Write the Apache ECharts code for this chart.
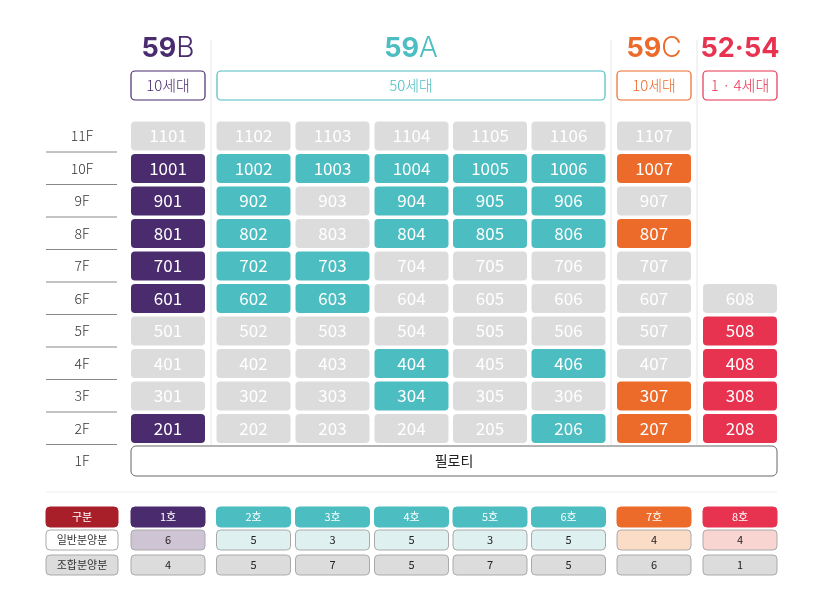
<!DOCTYPE html><html><head><meta charset="utf-8">
<script src="https://cdn.jsdelivr.net/npm/echarts@6/dist/echarts.min.js"></script>
<style>html,body{margin:0;padding:0;background:#fff}#c{width:823px;height:594px}</style></head><body><div id="c"></div>
<script>
const columns = ['1호','2호','3호','4호','5호','6호','7호','8호'];
const columnType = ['59B','59A','59A','59A','59A','59A','59C','5254'];
const floors = ['11F','10F','9F','8F','7F','6F','5F','4F','3F','2F','1F'];
const colored = {
 1:[10,9,8,7,6,2], 2:[10,9,8,7,6], 3:[10,7,6], 4:[10,9,8,4,3], 5:[10,9,8],
 6:[10,9,8,4,2], 7:[10,8,3,2], 8:[5,4,3,2]
};
const floorRange = {1:[2,11],2:[2,11],3:[2,11],4:[2,11],5:[2,11],6:[2,11],7:[2,11],8:[2,6]};
const generalSale = [6,5,3,5,3,5,4,4];
const unionSale = [4,5,7,5,7,5,6,1];
const typeNames = [['59','B'],['59','A'],['59','C'],['52·54','']];
const typeHouseholds = ['10세대','50세대','10세대','1 · 4세대'];

const colX = [168,253.5,332.5,411.5,490,568.5,654,740];
const CW = 74, CH = 29;
const floorY = f => 461 - (f-1)*32.5;
const typeColor = {'59B':'#4a2b6e','59A':'#4cbdc1','59C':'#ec6a2a','5254':'#e73350'};
const lightColor = {'59B':'#cfc4d4','59A':'#def0f0','59C':'#fbdcc6','5254':'#f9d5d2'};
const GREY = '#dcdcdc';
const F = '"Noto Sans CJK KR", "Noto Sans", sans-serif';
const FL = 'Inter, Lato, sans-serif';

const cellData = [];
for (let c=1;c<=8;c++){
  const [lo,hi]=floorRange[c];
  for(let f=lo;f<=hi;f++){
    cellData.push([colX[c-1], floorY(f), String(f*100+c), colored[c].includes(f)?typeColor[columnType[c-1]]:GREY]);
  }
}
const rowLabelData = floors.map((fl,i)=>[82, floorY(11-i), fl]);
const tableData = [];
tableData.push([82,517,'구분','#a81f2a','#fff',null]);
tableData.push([82,540,'일반분양분','#fff','#333','#aaa']);
tableData.push([82,565,'조합분양분',GREY,'#333','#aaa']);
columns.forEach((h,i)=>{
  const t=columnType[i];
  tableData.push([colX[i],517,h,typeColor[t],'#fff',null]);
  tableData.push([colX[i],540,String(generalSale[i]),lightColor[t],'#222','#aaa']);
  tableData.push([colX[i],565,String(unionSale[i]),GREY,'#222','#aaa']);
});
const headerGroups = [
 {x:168,x0:131,x1:205,c:'#4a2b6e'},
 {x:411,x0:217,x1:605,c:'#4cbdc1'},
 {x:654,x0:617,x1:691,c:'#ec6a2a'},
 {x:740,x0:703,x1:777,c:'#e73350'}
];
const headerData = headerGroups.map((g,i)=>[g.x,49,i]);

const chart = echarts.init(document.getElementById('c'));
chart.setOption({
  animation:false,
  grid:{left:0,right:0,top:0,bottom:0},
  xAxis:{type:'value',min:0,max:823,show:false},
  yAxis:{type:'value',min:0,max:594,inverse:true,show:false},
  series:[
   {type:'custom',data:headerData,renderItem:(p,api)=>{
      const i=api.value(2), g=headerGroups[i];
      const pt=api.coord([api.value(0),api.value(1)]);
      const b0=api.coord([g.x0,71]), b1=api.coord([g.x1,100]);
      const ch=[
       {type:'text',x:pt[0],y:pt[1],style:{text:'{b|'+typeNames[i][0]+'}'+(typeNames[i][1]?'{l|'+typeNames[i][1]+'}':''),
         align:'center',verticalAlign:'middle',rich:{b:{fontFamily:FL,fontWeight:'bold',fontSize:27,fill:g.c},l:{fontFamily:FL,fontWeight:300,fontSize:28,fill:g.c}}}},
       {type:'rect',shape:{x:b0[0],y:b0[1],width:b1[0]-b0[0],height:b1[1]-b0[1],r:4},style:{fill:'#fff',stroke:g.c,lineWidth:1.2}},
       {type:'text',x:(b0[0]+b1[0])/2,y:(b0[1]+b1[1])/2,style:{text:typeHouseholds[i],align:'center',verticalAlign:'middle',fontFamily:F,fontSize:15,fontWeight:300,fill:g.c}}
      ];
      return {type:'group',children:ch};
   }},
   {type:'custom',data:[[211],[611],[697]],renderItem:(p,api)=>{
      const a=api.coord([api.value(0),40]), b=api.coord([api.value(0),445]);
      return {type:'line',shape:{x1:a[0],y1:a[1],x2:b[0],y2:b[1]},style:{stroke:'#e6e6e6',lineWidth:1}};
   }},
   {type:'custom',data:rowLabelData,renderItem:(p,api)=>{
      const pt=api.coord([api.value(0),api.value(1)]);
      const ch=[{type:'text',x:pt[0],y:pt[1],style:{text:api.value(2),align:'center',verticalAlign:'middle',fontFamily:F,fontSize:14,fontWeight:300,fill:'#333'}}];
      if(p.dataIndex<10) ch.push({type:'line',shape:{x1:pt[0]-36,y1:pt[1]+16,x2:pt[0]+35,y2:pt[1]+16},style:{stroke:'#888',lineWidth:1}});
      return {type:'group',children:ch};
   }},
   {type:'custom',data:cellData,renderItem:(p,api)=>{
      const pt=api.coord([api.value(0),api.value(1)]);
      return {type:'group',children:[
       {type:'rect',shape:{x:pt[0]-CW/2,y:pt[1]-CH/2,width:CW,height:CH,r:4},style:{fill:api.value(3)}},
       {type:'text',x:pt[0],y:pt[1],style:{text:api.value(2),align:'center',verticalAlign:'middle',fontFamily:F,fontSize:17,fill:'#fff'}}
      ]};
   }},
   {type:'custom',data:[[454,461,'필로티']],renderItem:(p,api)=>{
      const a=api.coord([131,446]), b=api.coord([777,476]);
      const pt=api.coord([api.value(0),api.value(1)]);
      return {type:'group',children:[
       {type:'rect',shape:{x:a[0],y:a[1],width:b[0]-a[0],height:b[1]-a[1],r:5},style:{fill:'#fff',stroke:'#666',lineWidth:1}},
       {type:'text',x:pt[0],y:pt[1],style:{text:api.value(2),align:'center',verticalAlign:'middle',fontFamily:F,fontSize:14,fill:'#222'}},
       {type:'line',shape:{x1:46,y1:492,x2:777,y2:492},style:{stroke:'#eee',lineWidth:1}}
      ]};
   }},
   {type:'custom',data:tableData,renderItem:(p,api)=>{
      const pt=api.coord([api.value(0),api.value(1)]);
      const d=tableData[p.dataIndex];
      const w=p.dataIndex<3?72:74;
      return {type:'group',children:[
       {type:'rect',shape:{x:pt[0]-w/2,y:pt[1]-10,width:w,height:20,r:4},style:{fill:d[3],stroke:d[5]||d[3],lineWidth:1}},
       {type:'text',x:pt[0],y:pt[1],style:{text:d[2],align:'center',verticalAlign:'middle',fontFamily:F,fontSize:11,fill:d[4]}}
      ]};
   }}
  ]
});
</script></body></html>
